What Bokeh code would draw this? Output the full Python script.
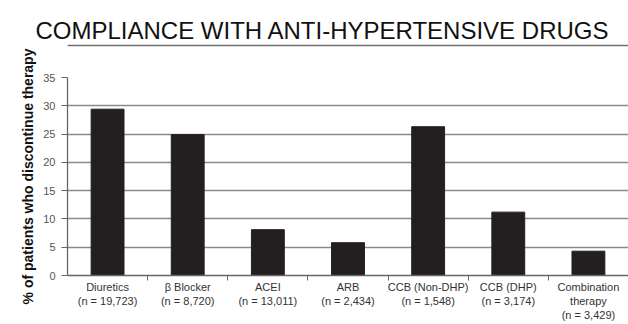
from bokeh.plotting import figure
from bokeh.models import FixedTicker, Range1d, ColumnDataSource, LinearAxis
from bokeh.embed import file_html
from bokeh.resources import INLINE

title_text = "COMPLIANCE WITH ANTI-HYPERTENSIVE DRUGS"
y_label = "% of patients who discontinue therapy"
drugs = ["Diuretics", "\u03b2 Blocker", "ACEI", "ARB", "CCB (Non-DHP)", "CCB (DHP)", "Combination\ntherapy"]
n_counts = ["19,723", "8,720", "13,011", "2,434", "1,548", "3,174", "3,429"]
discontinue = [29.4, 24.9, 8.1, 5.8, 26.3, 11.2, 4.3]
y_ticks = [0, 5, 10, 15, 20, 25, 30, 35]

FONT = "Liberation Sans"
W, H = 628, 324

xs = list(range(len(drugs)))
labels = {i: f"{d}\n(n = {n})" for i, (d, n) in enumerate(zip(drugs, n_counts))}
src = ColumnDataSource(dict(x=xs, top=discontinue))

p = figure(width=W, height=H, x_range=Range1d(-0.5, len(drugs) - 0.5), y_range=Range1d(0, 35),
           output_backend="svg", toolbar_location=None,
           min_border_left=67, min_border_right=0, min_border_top=77, min_border_bottom=49)
p.outline_line_color = None
p.vbar(x="x", top="top", width=0.41, source=src, fill_color="#231f20", line_color="#231f20")

xax = p.below[0]
yax = p.left[0]

# title
p.title.text = title_text
p.title.text_font = FONT
p.title.text_font_size = "24px"
p.title.text_font_style = "normal"
p.title.text_color = "#111111"
p.title.align = "left"
p.title.offset = -32
p.title.standoff = 1


def bare_axis(tick_out, line_color, line_width=1):
    return LinearAxis(ticker=FixedTicker(ticks=[-0.5]), axis_line_color=line_color,
                      axis_line_width=line_width,
                      major_tick_out=tick_out, major_tick_in=0, minor_tick_out=0, minor_tick_in=0,
                      major_tick_line_color="white", major_tick_line_width=1,
                      minor_tick_line_color=None,
                      major_label_standoff=0, major_label_overrides={-0.5: ""},
                      major_label_text_font_size="1px", major_label_text_alpha=0)


# spacer + underline below the title (extra top axes without visible ticks or labels)
p.add_layout(bare_axis(32, None), "above")
p.add_layout(bare_axis(1, "#707070", 1.5), "above")

p.xgrid.visible = False
p.ygrid.grid_line_color = "#8a8a8a"
p.ygrid.grid_line_width = 1.3
p.ygrid.ticker = FixedTicker(ticks=y_ticks)

yax.ticker = FixedTicker(ticks=y_ticks)
yax.axis_label = y_label
yax.axis_label_text_font = FONT
yax.axis_label_text_font_style = "bold"
yax.axis_label_text_font_size = "14px"
yax.axis_label_text_color = "#111111"
yax.axis_label_standoff = 4
yax.major_label_text_font = FONT
yax.major_label_text_font_size = "11px"
yax.major_label_text_color = "#555555"
yax.major_label_standoff = 6
yax.major_tick_out = 6
yax.major_tick_in = 0
yax.minor_tick_line_color = None
yax.axis_line_color = "#666666"
yax.major_tick_line_color = "#666666"
yax.axis_line_width = 1.3

xax.ticker = FixedTicker(ticks=xs, minor_ticks=[i + 0.5 for i in xs[:-1]])
xax.major_label_overrides = labels
xax.major_label_text_font = FONT
xax.major_label_text_font_size = "11px"
xax.major_label_text_color = "#333333"
xax.major_label_standoff = 0
xax.major_tick_out = 0
xax.major_tick_in = 0
xax.minor_tick_out = 5
xax.minor_tick_in = 0
xax.minor_tick_line_color = "#666666"
xax.axis_line_color = "#666666"
xax.axis_line_width = 1.3

open("out.html", "w").write(file_html(p, INLINE))
